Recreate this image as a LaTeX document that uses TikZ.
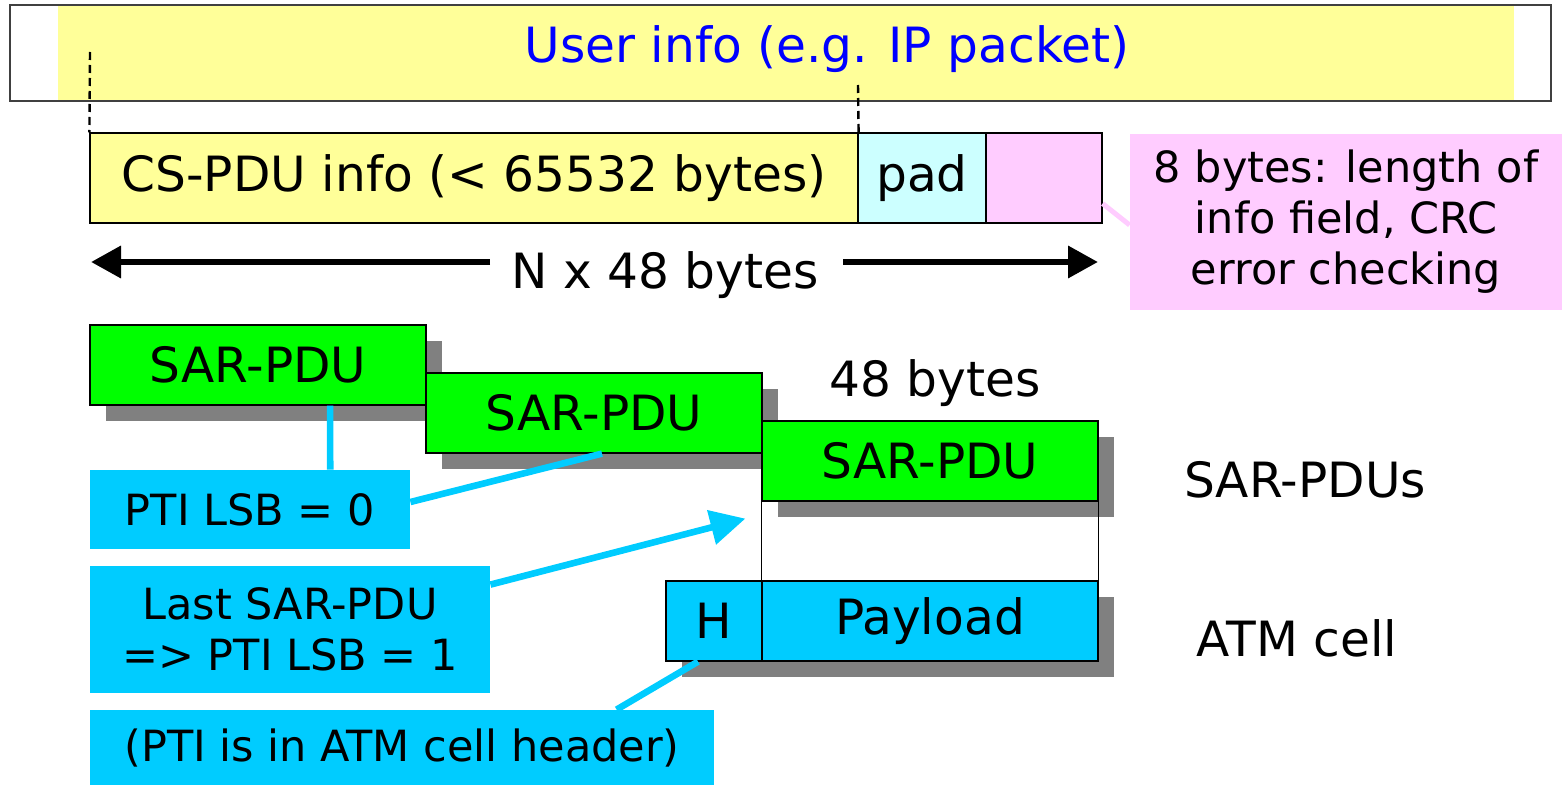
\documentclass[tikz,border=0pt]{standalone}
\usepackage{fontspec}
\setmainfont{DejaVu Sans}
\usetikzlibrary{arrows.meta,shadows,calc}
\definecolor{uyellow}{HTML}{FFFF99}
\definecolor{padcyan}{HTML}{CCFFFF}
\definecolor{upink}{HTML}{FFCCFF}
\definecolor{sgreen}{HTML}{00FF00}
\definecolor{acyan}{HTML}{00CCFF}
\definecolor{shgray}{HTML}{808080}
\definecolor{ublue}{HTML}{0000FF}
\begin{document}
\begin{tikzpicture}[x=0.5pt,y=-0.5pt,
  mainfont/.style={font=\fontsize{24.3}{28}\selectfont},
  notefont/.style={font=\fontsize{21.5}{25.5}\selectfont},
  cell/.style={draw=black, line width=0.6pt, inner sep=0pt, mainfont},
  shd/.style={drop shadow={shadow xshift=8pt, shadow yshift=-8pt, fill=shgray, opacity=1}},
  sar/.style={cell, fill=sgreen, shd, minimum width=168pt, minimum height=40pt},
  note/.style={fill=acyan, inner sep=0pt, notefont, align=center},
  cline/.style={draw=acyan, line width=3.3pt},
  dline/.style={draw=black, line width=1.2pt, dash pattern=on 4pt off 2.5pt},
  dimarrow/.style={line width=3.3pt, -{Triangle[length=15pt,width=15.5pt]}},
  plain/.style={mainfont, inner sep=0pt}]
\useasboundingbox (0,0) rectangle (1562,786);

% top bar
\node[fill=uyellow, minimum width=728pt, minimum height=48pt, inner sep=0pt] (ui) at (786,53) {};
\node[draw=black!75, line width=1pt, minimum width=770.5pt, minimum height=48pt, inner sep=0pt] (bar) at (780.5,53) {};
\node[plain, text=ublue] (uit) at (827,49) {User info (e.g. IP packet)};

% CS-PDU row
\node[cell, fill=uyellow, minimum width=384pt, minimum height=45pt] (csi) at (474,178) {CS-PDU info (< 65532 bytes)};
\node[cell, fill=padcyan, minimum width=64pt, minimum height=45pt] (pad) at (922,178) {pad};
\node[cell, fill=upink, minimum width=58pt, minimum height=45pt] (trl) at (1044,178) {};

\coordinate (d1top) at (90,52);
\coordinate (d2top) at (858,85);
\draw[dline] (d1top) -- (csi.north west);
\draw[dline] (d2top) -- (csi.north east);

% trailer note
\node[fill=upink, notefont, align=center, minimum width=216pt, minimum height=88pt, inner sep=0pt] (tnote) at (1346,222) {8 bytes: length of\\info field, CRC\\error checking};
\draw[draw=upink, line width=2.5pt] ($(trl.south east)+(0,-20)$) -- ($(tnote.west)+(0,3)$);

% N x 48 bytes
\node[plain] (nx) at (665,275) {N x 48 bytes};
\coordinate (nxl) at (490,262);
\coordinate (nxlt) at (91,262);
\coordinate (nxr) at (843,262);
\coordinate (nxrt) at (1098,262);
\draw[dimarrow] (nxl) -- (nxlt);
\draw[dimarrow] (nxr) -- (nxrt);

% SAR-PDUs
\node[sar] (s1) at (258,365) {SAR-PDU};
\node[sar] (s2) at (594,413) {SAR-PDU};
\node[sar] (s3) at (930,461) {SAR-PDU};
\node[plain] (b48) at (935,383) {48 bytes};
\node[plain] (sarl) at (1305,480) {SAR-PDUs};

% ATM cell
\node[cell, fill=acyan, shd, minimum width=48pt, minimum height=40pt] (h) at (714,621) {H};
\node[cell, fill=acyan, shd, minimum width=168pt, minimum height=40pt] (pl) at (930,621) {Payload};
\node[plain] (atml) at (1297,638) {ATM cell};
\draw[line width=0.6pt] (s3.south west) -- (pl.north west);
\draw[line width=0.6pt] (s3.south east) -- (pl.north east);

% notes
\node[note, minimum width=160pt, minimum height=39.5pt] (pti0) at (250,509.5) {PTI LSB = 0};
\node[note, minimum width=200pt, minimum height=63.5pt] (last) at (290,629.5) {Last SAR-PDU\\=> PTI LSB = 1};
\node[note, minimum width=312pt, minimum height=37.5pt] (hdr) at (402,747.5) {(PTI is in ATM cell header)};

% cyan connectors
\draw[cline] ($(s1.south west)!0.714!(s1.south east)$) -- ($(pti0.north west)!0.75!(pti0.north east)$);
\draw[cline] ($(pti0.east)+(0,-7.5)$) -- ($(s2.south)+(8,0)$);
\coordinate (lt) at ($(s3.south west)+(-16,17)$);
\draw[cline, -{Triangle[length=17.5pt,width=17pt]}] ($(last.north east)+(0,19)$) -- (lt);
\draw[cline] ($(hdr.north west)+(527,0)$) -- ($(h.south)+(-16,0)$);
\end{tikzpicture}
\end{document}
